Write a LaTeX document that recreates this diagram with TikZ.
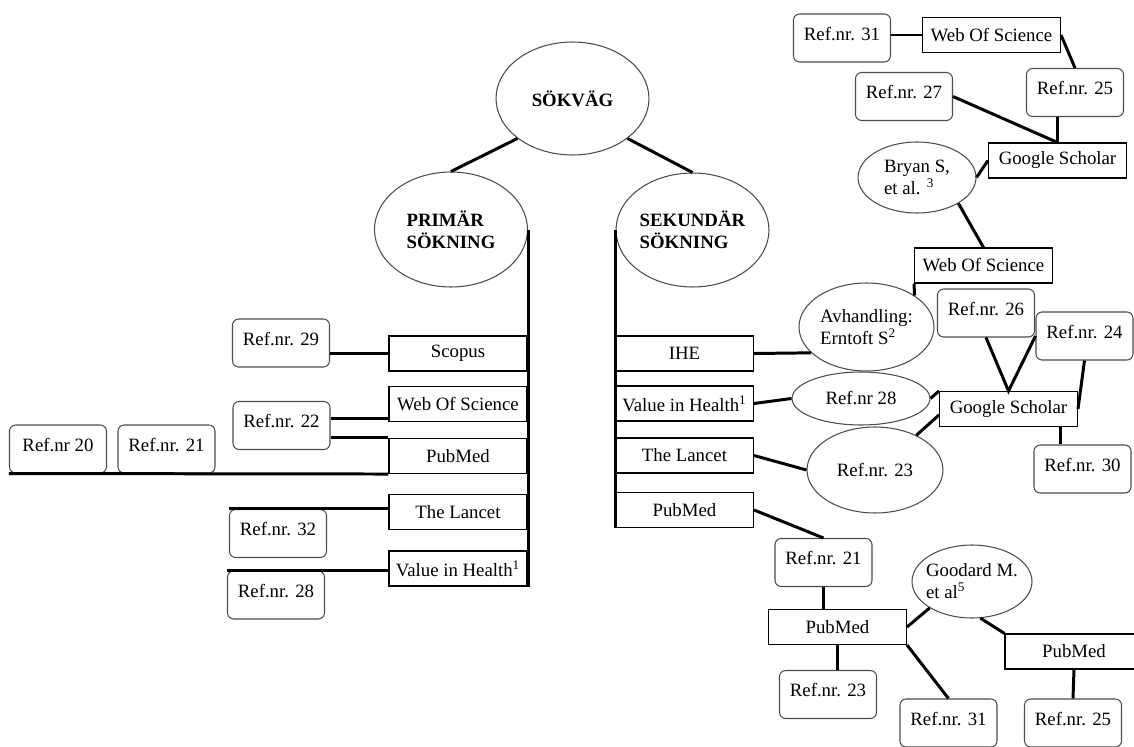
\documentclass[tikz,border=0pt]{standalone}
\usepackage{fontspec}
\setmainfont{Liberation Serif}
\usetikzlibrary{shapes.geometric}

\begin{document}
\begin{tikzpicture}[x=0.02cm, y=-0.02cm,
        font=\fontsize{10.7}{12.5}\selectfont,
        refbox/.style={draw=black!70, rounded corners=3.5pt, line width=0.6pt, minimum width=1.94cm, minimum height=0.96cm, inner sep=1pt, text depth=5pt},
        dbbox/.style={draw, line width=0.6pt, minimum width=2.76cm, minimum height=0.7cm, inner sep=2pt},
        topic/.style={ellipse, draw=black!70, line width=0.6pt, inner sep=0pt, align=left},
        link/.style={line width=1.7pt}]
            \useasboundingbox (0,0) rectangle (1134,747);

            % Top:
            \node[topic, minimum width=3.06cm, minimum height=2.26cm] (sokvag) at (572.5,98.5) {\textbf{SÖKVÄG}};
            \node[topic, minimum width=3.06cm, minimum height=2.3cm] (prim) at (451,229.5) {\textbf{PRIMÄR}\\\textbf{SÖKNING}};
            \node[topic, minimum width=3.06cm, minimum height=2.28cm] (sek) at (692.5,230) {\textbf{SEKUNDÄR}\\\textbf{SÖKNING}};
            \draw[link] (sokvag.216) -- (prim.north);
            \draw[link] (sokvag.-36) -- (sek.north);

            % Primary search:
            \node[dbbox] (pscopus) at (458,353.5) {Scopus};
            \node[dbbox] (pwos) at (458,404) {Web Of Science};
            \node[dbbox] (ppubmed) at (458,456) {PubMed};
            \node[dbbox] (plancet) at (458,512) {The Lancet};
            \node[dbbox] (pvih) at (458,568.5) {Value in Health\textsuperscript{1}};
            \node[refbox] (r29) at (281,343) {Ref.nr. 29};
            \node[refbox] (r22) at (281.5,425.5) {Ref.nr. 22};
            \node[refbox] (r20) at (58,449) {Ref.nr 20};
            \node[refbox] (r21) at (166.5,449) {Ref.nr. 21};
            \node[refbox] (r32) at (278,533.5) {Ref.nr. 32};
            \node[refbox] (r28) at (276,595) {Ref.nr. 28};
            \coordinate (wosfoot) at ([yshift=2pt]pwos.south west);

            \draw[link] (prim.east) -- (prim.east |- pvih.south);
            \draw[link] (r29.east |- pscopus.west) -- (pscopus.west);
            \draw[link] (r22.east |- wosfoot) -- (wosfoot);
            \draw[link] (r22.east |- ppubmed.north west) -- (ppubmed.north west);
            \draw[link] (r20.south west) -- (ppubmed.south west);
            \draw[link] (r32.north west) -- (r32.north west -| plancet.west);
            \draw[link] (r28.north west) -- (r28.north west -| pvih.west);

            % Secondary search:
            \node[dbbox] (sihe) at (684.5,353.5) {IHE};
            \node[dbbox] (svih) at (684.5,403.5) {Value in Health\textsuperscript{1}};
            \node[dbbox] (slancet) at (684.5,455.5) {The Lancet};
            \node[dbbox] (spubmed) at (684.5,510) {PubMed};
            \draw[link] (sek.west) -- (sek.west |- spubmed.south);

            \node[topic, minimum width=2.7cm, minimum height=1.76cm] (avh) at (866.5,327) {Avhandling:\\Erntoft S\textsuperscript{2}};
            \node[topic, minimum width=2.76cm, minimum height=1.06cm] (e28) at (861,398.5) {Ref.nr 28};
            \node[topic, minimum width=2.72cm, minimum height=1.72cm] (e23) at (875,470) {Ref.nr. 23};
            \node[dbbox] (gsmid) at (1008.5,409) {Google Scholar};
            \node[refbox] (r26) at (986,313) {Ref.nr. 26};
            \node[refbox] (r24) at (1084.5,336) {Ref.nr. 24};
            \node[refbox] (r30) at (1082.5,469) {Ref.nr. 30};
            \node[dbbox] (wosmid) at (983.5,265.5) {Web Of Science};
            \node[topic, minimum width=2.36cm, minimum height=1.42cm] (bryan) at (917,177.5) {Bryan S,\\et al. \textsuperscript{3}};
            \node[dbbox] (gstop) at (1057.5,160.5) {Google Scholar};
            \node[refbox] (r27) at (904,96.5) {Ref.nr. 27};
            \node[refbox] (r25) at (1075,92.5) {Ref.nr. 25};
            \node[refbox] (r31) at (842,38) {Ref.nr. 31};
            \node[dbbox] (wostop) at (991.5,35) {Web Of Science};
            \coordinate (gsfoot) at ([xshift=-0.36cm]gsmid.south east);

            \draw[link] (sihe.east) -- (avh.205);
            \draw[link] (svih.east) -- (e28.west);
            \draw[link] (slancet.east) -- (e23.west);
            \draw[link] (e28.east) -- (gsmid.north west);
            \draw[link] (e23.40) -- ([yshift=-0.12cm]gsmid.west);
            \draw[link] (r26.south) -- (gsmid.north) -- (r24.west);
            \draw[link] (r24.south) -- (gsmid.east);
            \draw[link] (gsfoot) -- (gsfoot |- r30.north);
            \draw[link] (wosmid.south west) -- (avh.north east);
            \draw[link] (bryan.-32) -- (wosmid.north);
            \draw[link] (bryan.east) -- (gstop.west);
            \draw[link] (r27.east) -- (gstop.north);
            \draw[link] (gstop.north |- r25.south) -- (gstop.north);
            \draw[link] (r31.east |- wostop.west) -- (wostop.west);
            \draw[link] (wostop.east) -- (r25.north);

            % PubMed branch:
            \node[refbox] (r21b) at (823.5,562.5) {Ref.nr. 21};
            \node[dbbox] (pubb) at (837.5,627) {PubMed};
            \node[refbox] (r23b) at (828,694.5) {Ref.nr. 23};
            \node[refbox] (r31b) at (948.5,723) {Ref.nr. 31};
            \node[topic, minimum width=2.4cm, minimum height=1.46cm, inner xsep=-3pt] (goodard) at (972,581.5) {Goodard M.\\et al\textsuperscript{5}};
            \node[dbbox] (pub2) at (1074,651.5) {PubMed};
            \node[refbox] (r25b) at (1073,723) {Ref.nr. 25};

            \draw[link] (spubmed.east) -- (r21b.north);
            \draw[link] (r21b.south) -- (r21b.south |- pubb.north);
            \draw[link] (pubb.south) -- (pubb.south |- r23b.north);
            \draw[link] (pubb.south east) -- (r31b.north);
            \draw[link] (pubb.east) -- (goodard.212);
            \draw[link] (goodard.-77) -- (pub2.north west);
            \draw[link] (pub2.south) -- (r25b.north);
        \end{tikzpicture}
\end{document}
